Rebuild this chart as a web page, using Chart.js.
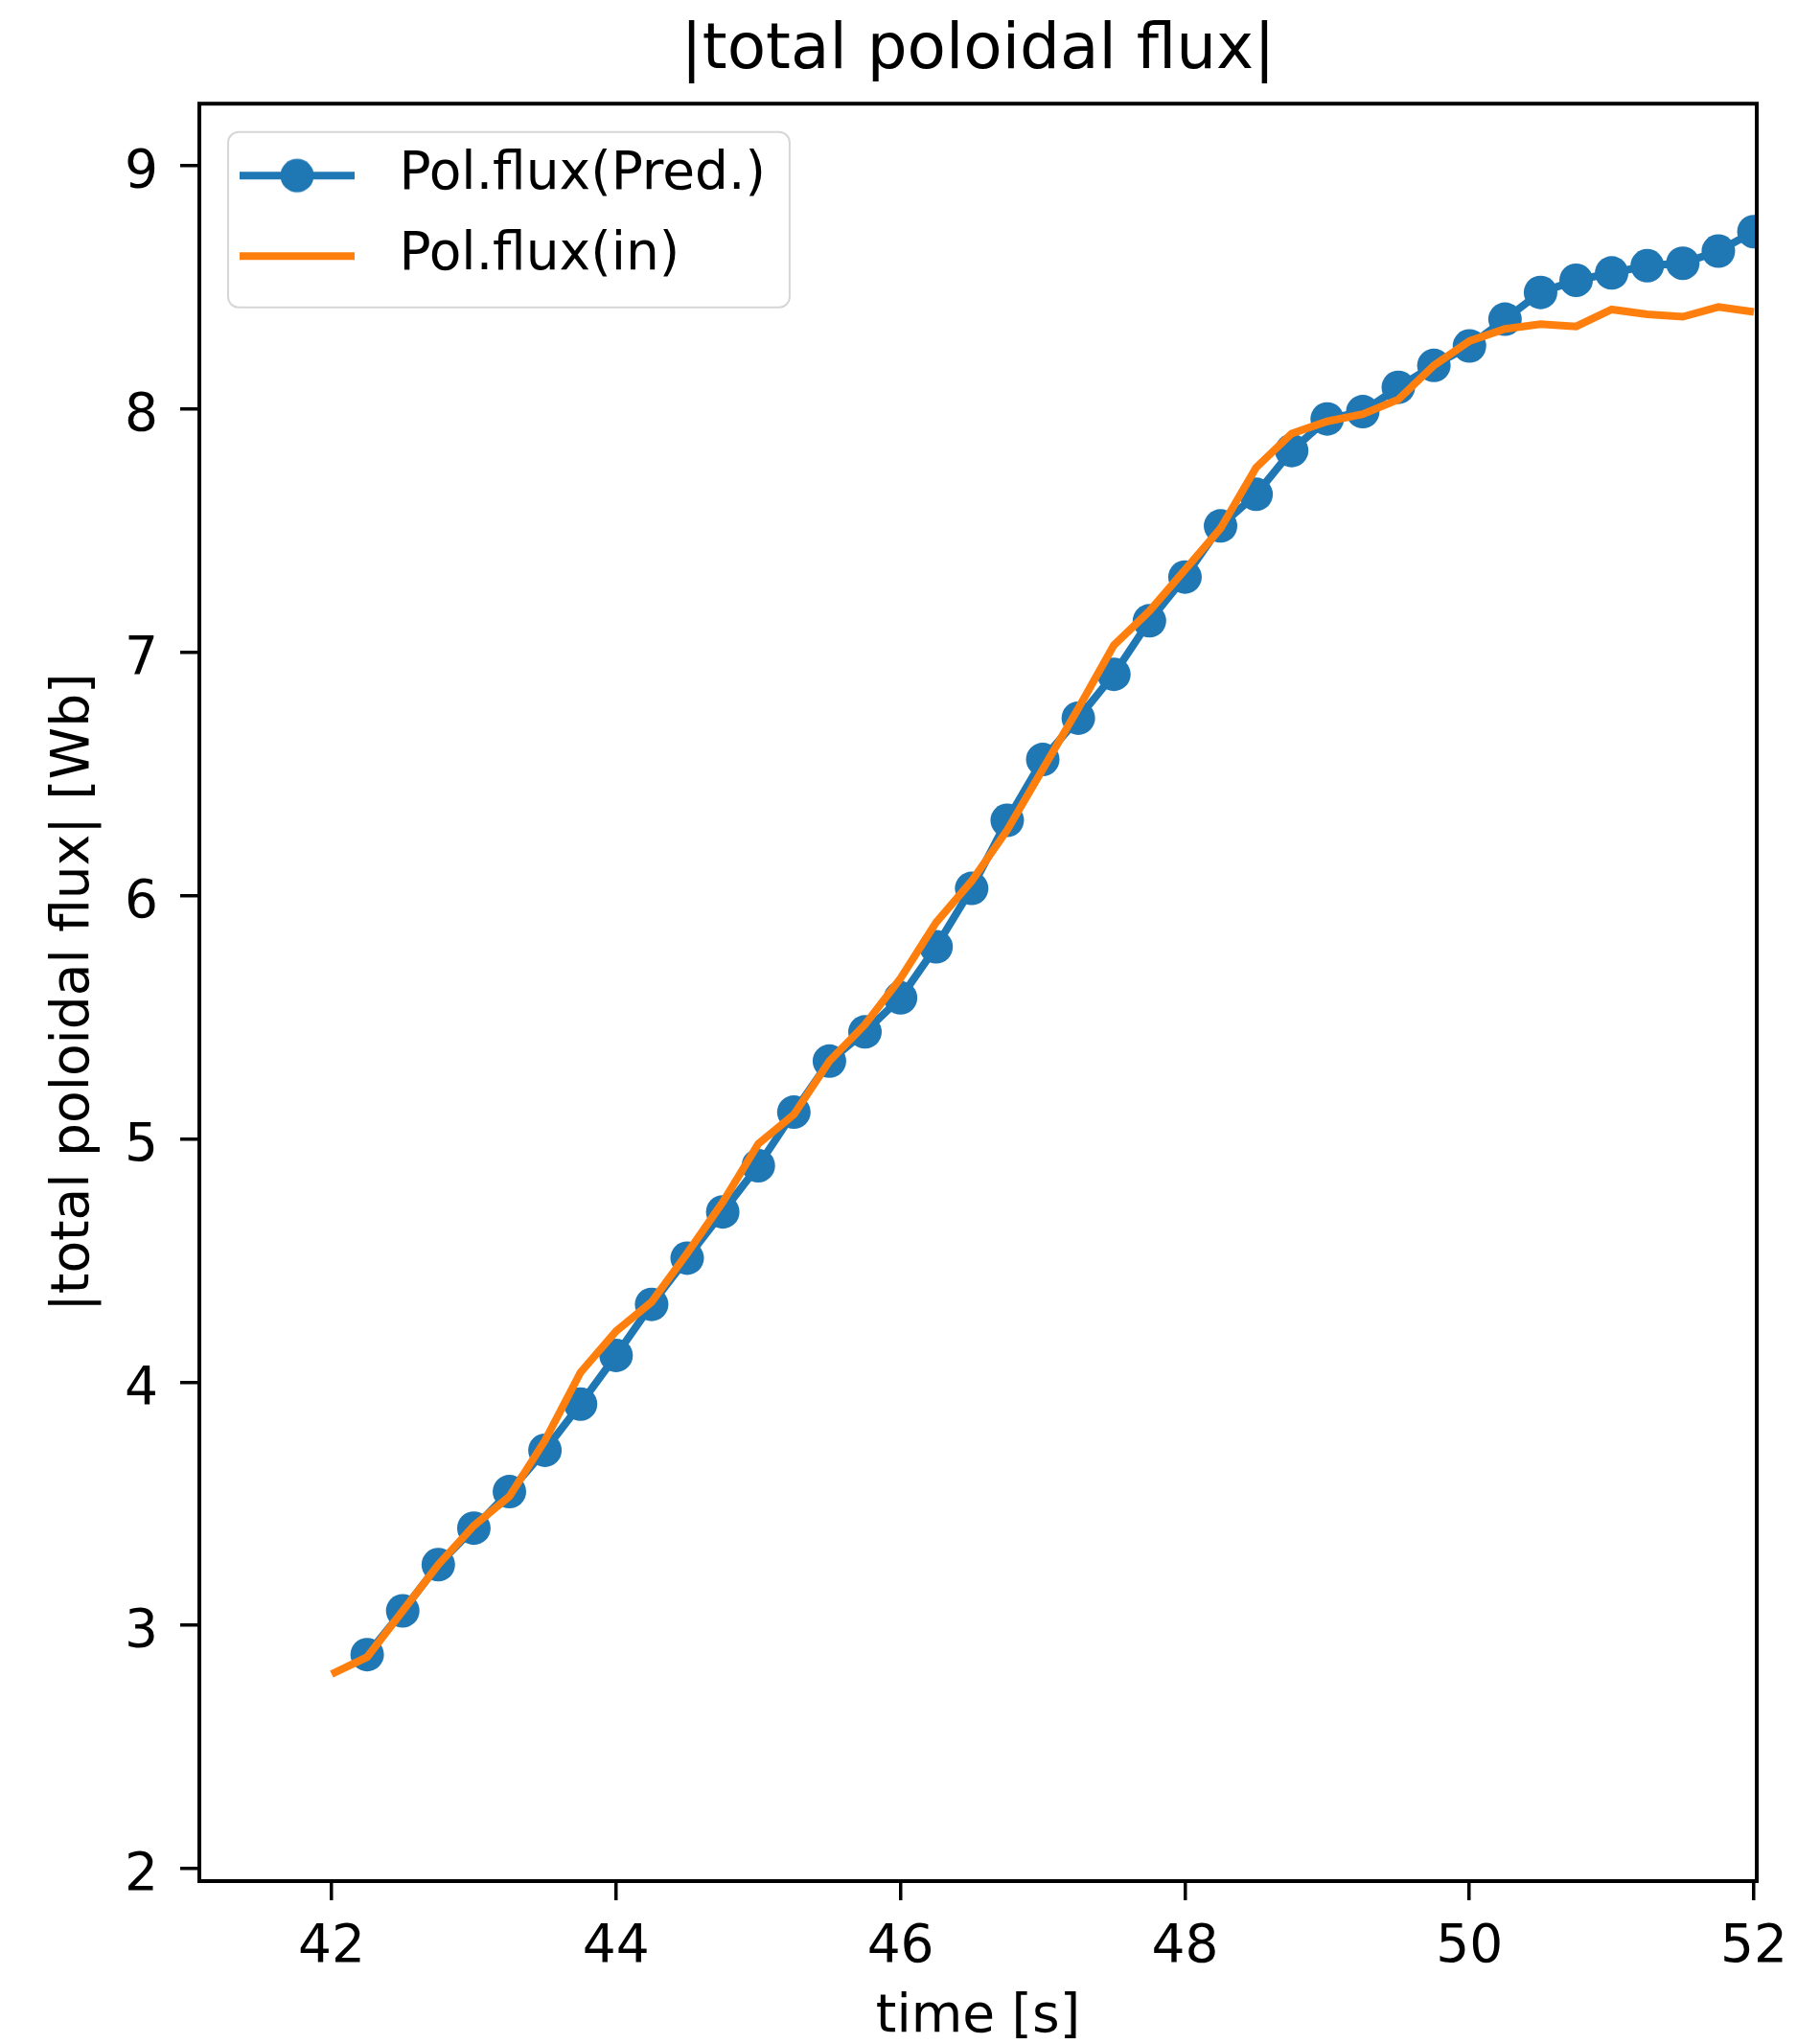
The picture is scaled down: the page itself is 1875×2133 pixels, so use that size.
<!DOCTYPE html>
<html>
<head>
<meta charset="utf-8">
<script src="https://cdn.jsdelivr.net/npm/chart.js@4.4.0/dist/chart.umd.min.js"></script>
<style>
html, body { margin: 0; padding: 0; background: #fff; }
canvas { display: block; }
</style>
</head>
<body>
<canvas id="fluxchart" width="1875" height="2133"></canvas>
<script>
// time axis [s]
var timeIn = [42.0, 42.25, 42.5, 42.75, 43.0, 43.25, 43.5, 43.75, 44.0, 44.25, 44.5,
	44.75, 45.0, 45.25, 45.5, 45.75, 46.0, 46.25, 46.5, 46.75, 47.0, 47.25, 47.5,
	47.75, 48.0, 48.25, 48.5, 48.75, 49.0, 49.25, 49.5, 49.75, 50.0, 50.25, 50.5,
	50.75, 51.0, 51.25, 51.5, 51.75, 52.0];
var timePred = [42.25, 42.5, 42.75, 43.0, 43.25, 43.5, 43.75, 44.0, 44.25, 44.5,
	44.75, 45.0, 45.25, 45.5, 45.75, 46.0, 46.25, 46.5, 46.75, 47.0, 47.25, 47.5,
	47.75, 48.0, 48.25, 48.5, 48.75, 49.0, 49.25, 49.5, 49.75, 50.0, 50.25, 50.5,
	50.75, 51.0, 51.25, 51.5, 51.75, 52.0];

// |total poloidal flux| [Wb]
var fluxIn = [2.80, 2.87, 3.06, 3.25, 3.41, 3.53, 3.76, 4.04, 4.21, 4.33, 4.53,
	4.74, 4.98, 5.10, 5.32, 5.47, 5.66, 5.89, 6.06, 6.27, 6.52, 6.77, 7.03,
	7.17, 7.34, 7.51, 7.76, 7.90, 7.95, 7.98, 8.04, 8.18, 8.28, 8.33, 8.35,
	8.34, 8.41, 8.39, 8.38, 8.42, 8.40];
var fluxPred = [2.88, 3.06, 3.25, 3.40, 3.55, 3.72, 3.91, 4.11, 4.32, 4.51,
	4.70, 4.89, 5.11, 5.32, 5.44, 5.58, 5.79, 6.03, 6.31, 6.56, 6.73, 6.91,
	7.13, 7.31, 7.52, 7.65, 7.83, 7.96, 7.99, 8.09, 8.18, 8.26, 8.37, 8.48,
	8.53, 8.56, 8.59, 8.60, 8.65, 8.73];

var xTicks = [42, 44, 46, 48, 50, 52];
var yTicks = [2, 3, 4, 5, 6, 7, 8, 9];

var BLUE = '#1f77b4';
var ORANGE = '#ff7f0e';

Chart.defaults.font.family = "'DejaVu Sans', sans-serif";
Chart.defaults.color = '#000';

function toPoints(xs, ys) {
	return xs.map(function (x, i) { return { x: x, y: ys[i] }; });
}

// little line (+ marker) picture used as legend handle
function swatch(color, withMarker) {
	var c = document.createElement('canvas');
	c.width = 152;
	c.height = 40;
	var g = c.getContext('2d');
	g.strokeStyle = color;
	g.lineWidth = 8;
	g.beginPath();
	g.moveTo(13, 20);
	g.lineTo(133, 20);
	g.stroke();
	if (withMarker) {
		g.fillStyle = color;
		g.beginPath();
		g.arc(73, 20, 17.5, 0, Math.PI * 2);
		g.fill();
	}
	return c;
}
var swatches = [swatch(BLUE, true), swatch(ORANGE, false)];

// legend frame + axes spines
var frames = {
	id: 'frames',
	beforeDraw: function (chart) {
		var hb = chart.legend && chart.legend.legendHitBoxes;
		if (!hb || !hb.length) return;
		var ctx = chart.ctx;
		var left = hb[0].left + 1;
		var top = hb[0].top - 18;
		var right = 0;
		hb.forEach(function (b) { right = Math.max(right, b.left + b.width); });
		right += 25;
		var last = hb[hb.length - 1];
		var bottom = last.top + last.height + 26;
		ctx.save();
		ctx.fillStyle = 'rgba(255,255,255,0.8)';
		ctx.strokeStyle = '#d6d6d6';
		ctx.lineWidth = 2;
		ctx.beginPath();
		ctx.roundRect(left, top, right - left, bottom - top, 11);
		ctx.fill();
		ctx.stroke();
		ctx.restore();
	},
	afterDatasetsDraw: function (chart) {
		var a = chart.chartArea;
		var ctx = chart.ctx;
		ctx.save();
		ctx.strokeStyle = '#000';
		ctx.lineWidth = 4;
		ctx.strokeRect(a.left, a.top, a.right - a.left, a.bottom - a.top);
		ctx.restore();
	}
};

var fluxchart = {
	type: 'line',
	data: {
		datasets: [
			{
				label: 'Pol.flux(Pred.)',
				data: toPoints(timePred, fluxPred),
				borderColor: BLUE,
				backgroundColor: BLUE,
				borderWidth: 8,
				pointRadius: 17.5,
				pointBorderWidth: 0,
				pointHoverRadius: 17.5,
				pointBackgroundColor: BLUE,
				tension: 0,
				clip: 0,
				order: 1
			},
			{
				label: 'Pol.flux(in)',
				data: toPoints(timeIn, fluxIn),
				borderColor: ORANGE,
				backgroundColor: ORANGE,
				borderWidth: 8,
				pointRadius: 0,
				tension: 0,
				clip: 0,
				order: 0
			}
		]
	},
	options: {
		responsive: false,
		animation: false,
		events: [],
		layout: {
			padding: { left: 0, right: 42, top: 0, bottom: 0 }
		},
		plugins: {
			title: {
				display: true,
				text: '|total poloidal flux|',
				fullSize: false,
				color: '#000',
				font: { size: 66, weight: 'normal' },
				padding: { top: 14, bottom: 15 }
			},
			legend: {
				display: true,
				position: 'chartArea',
				align: 'start',
				// spacer: the legend box starts at the canvas top, push it below the title
				title: {
					display: true,
					text: '',
					font: { size: 10 },
					padding: { top: 114.7, bottom: 0 }
				},
				labels: {
					usePointStyle: true,
					pointStyleWidth: 152,
					padding: 29,
					color: '#000',
					font: { size: 55 },
					generateLabels: function (chart) {
						return chart.data.datasets.map(function (ds, i) {
							return {
								text: ds.label,
								pointStyle: swatches[i],
								fillStyle: ds.borderColor,
								strokeStyle: ds.borderColor,
								lineWidth: 0,
								hidden: false,
								datasetIndex: i,
								fontColor: '#000'
							};
						});
					}
				}
			},
			tooltip: { enabled: false }
		},
		scales: {
			x: {
				type: 'linear',
				min: 41.07,
				max: 52.02,
				border: { display: false },
				grid: {
					display: true,
					drawOnChartArea: false,
					drawTicks: true,
					tickLength: 20,
					color: '#000',
					lineWidth: 3.5
				},
				ticks: {
					padding: 17,
					font: { size: 55 },
					color: '#000',
					maxRotation: 0,
					callback: function (v) { return String(v); }
				},
				afterBuildTicks: function (scale) {
					scale.ticks = xTicks.map(function (v) { return { value: v }; });
				},
				afterFit: function (scale) {
					scale.height = 170;
					// let the "52" label hang into the right margin
					scale.paddingLeft = 0;
					scale.paddingRight = 0;
				},
				title: {
					display: true,
					text: 'time [s]',
					color: '#000',
					font: { size: 55, lineHeight: 1 },
					padding: { top: 0, bottom: 0 }
				}
			},
			y: {
				type: 'linear',
				min: 1.949,
				max: 9.256,
				border: { display: false },
				grid: {
					display: true,
					drawOnChartArea: false,
					drawTicks: true,
					tickLength: 20,
					color: '#000',
					lineWidth: 3.5
				},
				ticks: {
					padding: 23,
					labelOffset: 8,
					font: { size: 55 },
					color: '#000',
					callback: function (v) { return String(v); }
				},
				afterBuildTicks: function (scale) {
					scale.ticks = yTicks.map(function (v) { return { value: v }; });
				},
				afterFit: function (scale) { scale.width = 208; },
				title: {
					display: true,
					text: '|total poloidal flux| [Wb]',
					color: '#000',
					font: { size: 55 },
					padding: { top: 45, bottom: 0 }
				}
			}
		}
	},
	plugins: [frames]
};

window.onload = function () {
	var ctx = document.getElementById('fluxchart').getContext('2d');
	window.myFlux = new Chart(ctx, fluxchart);
};
</script>
</body>
</html>
